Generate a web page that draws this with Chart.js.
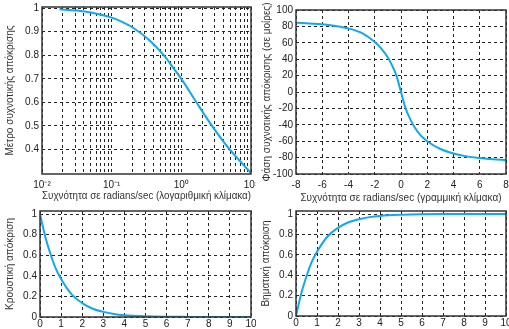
<!DOCTYPE html>
<html lang="el">
<head>
  <meta charset="UTF-8" />
  <title>Απόκριση συστήματος</title>
  <script src="https://cdn.jsdelivr.net/npm/chart.js"></script>
  <style>
    body { margin: 0; background: #fff; }
    #wrap { position: relative; width: 509px; height: 329px; overflow: hidden; }
    canvas { position: absolute; }
  </style>
</head>
<body>
  <div id="wrap">
    <canvas id="magChart" width="256" height="205" style="left:0;top:0"></canvas>
    <canvas id="phaseChart" width="255" height="205" style="left:254px;top:0"></canvas>
    <canvas id="impChart" width="256" height="124" style="left:0;top:205px"></canvas>
    <canvas id="stepChart" width="255" height="124" style="left:254px;top:205px"></canvas>
  </div>

  <script>
    // magnitude (log frequency axis)
    const magW = [0.0178, 0.0316, 0.0501, 0.1, 0.141, 0.2, 0.355, 0.582, 0.759, 1.0, 1.585, 2.818, 5.01, 10.0];
    const magY = [0.995, 0.99, 0.982, 0.96, 0.942, 0.918, 0.862, 0.794, 0.748, 0.7, 0.608, 0.496, 0.398, 0.3];
    const logTicks = [0.01,0.02,0.03,0.04,0.05,0.06,0.07,0.08,0.09,
                      0.1,0.2,0.3,0.4,0.5,0.6,0.7,0.8,0.9,
                      1,2,3,4,5,6,7,8,9,10];
    const logTickLabels = ['10⁻²','','','','','','','','',
                           '10⁻¹','','','','','','','','',
                           '10⁰','','','','','','','','','10¹'];
    const magTicks = [0.4, 0.5, 0.6, 0.7, 0.8, 0.9, 1];

    // phase in degrees (linear frequency axis)
    const phW =   [-8, -7, -6, -5, -4, -3, -2, -1.5, -1, -0.7, -0.35, 0, 0.35, 0.7, 1, 1.5, 2, 3, 4, 5, 6, 7, 8];
    const phDeg = [84.5, 83.5, 82.5, 80.5, 77.5, 72, 61, 53, 42, 33, 20, 0, -20, -33, -42, -53, -60, -69.5, -75, -78.5, -80.5, -82, -83];
    const phXTicks = [-8, -6, -4, -2, 0, 2, 4, 6, 8];
    const phYTicks = [-100, -80, -60, -40, -20, 0, 20, 40, 60, 80, 100];

    // impulse and step responses
    const tVals = [0, 0.25, 0.5, 0.75, 1, 1.5, 2, 2.5, 3, 3.5, 4, 5, 6, 7, 8, 9, 10];
    const impY  = [1, 0.78, 0.61, 0.47, 0.37, 0.22, 0.135, 0.08, 0.05, 0.03, 0.018, 0.007, 0.0025, 0.001, 0, 0, 0];
    const stepY = [0, 0.22, 0.39, 0.53, 0.63, 0.78, 0.865, 0.92, 0.95, 0.97, 0.982, 0.993, 0.998, 1, 1, 1, 1];
    const tTicks = [0, 1, 2, 3, 4, 5, 6, 7, 8, 9, 10];
    const respTicks = [0, 0.2, 0.4, 0.6, 0.8, 1];

    const lineColor = '#12a8ea';
    const font = { family: 'Liberation Sans, Arial, sans-serif', size: 10 };

    // box round the plot area, like MATLAB axes
    const framePlugin = {
      id: 'frame',
      afterDraw(chart) {
        const { ctx, chartArea: a } = chart;
        ctx.save();
        ctx.strokeStyle = '#333';
        ctx.lineWidth = 1.5;
        ctx.strokeRect(a.left, a.top, a.right - a.left, a.bottom - a.top);
        ctx.restore();
      }
    };

    function pts(xs, ys) {
      return xs.map((x, i) => ({ x: x, y: ys[i] }));
    }

    function makeChart(id, cfg) {
      const ctx = document.getElementById(id).getContext('2d');
      const axisCommon = {
        grid: { color: '#222', lineWidth: 1, drawTicks: false },
        border: { display: false, dash: [3, 3] },
      };
      return new Chart(ctx, {
        type: 'line',
        data: {
          datasets: [{
            data: cfg.data,
            borderColor: lineColor,
            borderWidth: 2,
            pointRadius: 0,
            fill: false,
            cubicInterpolationMode: 'monotone'
          }]
        },
        options: {
          responsive: false,
          animation: false,
          events: [],
          layout: { padding: { top: cfg.top, right: cfg.right, bottom: cfg.bottom, left: 0 } },
          plugins: { legend: { display: false }, tooltip: { enabled: false } },
          scales: {
            x: Object.assign({}, axisCommon, {
              type: cfg.xType || 'linear',
              min: cfg.xMin, max: cfg.xMax,
              title: cfg.xTitle ? { display: true, text: cfg.xTitle, font: font, color: '#333', padding: { top: 0, bottom: 0 } } : { display: false },
              ticks: {
                font: font, color: '#222', padding: cfg.xTickPad, autoSkip: false, maxRotation: 0,
                callback: cfg.xLabels ? (v, i) => cfg.xLabels[i] : (v) => String(v)
              },
              afterBuildTicks: s => { s.ticks = cfg.xTicks.map(v => ({ value: v })); },
              afterFit: s => { s.height = cfg.xHeight; s.paddingLeft = 0; s.paddingRight = 0; }
            }),
            y: Object.assign({}, axisCommon, {
              min: cfg.yMin, max: cfg.yMax,
              title: { display: true, text: cfg.yTitle, font: font, color: '#333', padding: { top: cfg.yTitlePad, bottom: 0 } },
              ticks: { font: font, color: '#222', padding: 3, callback: v => String(v) },
              afterBuildTicks: s => { s.ticks = cfg.yTicks.map(v => ({ value: v })); },
              afterFit: s => { s.width = cfg.yWidth; s.paddingTop = 0; s.paddingBottom = 0; }
            })
          }
        },
        plugins: [framePlugin]
      });
    }

    makeChart('magChart', {
      data: pts(magW, magY),
      xType: 'logarithmic', xMin: 0.01, xMax: 10, xTicks: logTicks, xLabels: logTickLabels,
      yMin: 0.296, yMax: 1.005, yTicks: magTicks,
      xTitle: 'Συχνότητα σε radians/sec (λογαριθμική κλίμακα)',
      yTitle: 'Μέτρο συχνοτικής απόκρισης',
      top: 7, right: 5, bottom: 3, yWidth: 42, xHeight: 28, xTickPad: 5, yTitlePad: 4
    });

    makeChart('phaseChart', {
      data: pts(phW, phDeg),
      xMin: -8, xMax: 8, xTicks: phXTicks,
      yMin: -100, yMax: 100, yTicks: phYTicks,
      xTitle: 'Συχνότητα σε radians/sec (γραμμική κλίμακα)',
      yTitle: 'Φάση συχνοτικής απόκρισης (σε μοίρες)',
      top: 10, right: 3, bottom: 1, yWidth: 42, xHeight: 30, xTickPad: 5, yTitlePad: 7
    });

    makeChart('impChart', {
      data: pts(tVals, impY),
      xMin: 0, xMax: 10, xTicks: tTicks,
      yMin: 0, yMax: 1.03, yTicks: respTicks,
      yTitle: 'Κρουστική απόκριση',
      top: 6, right: 5, bottom: 0, yWidth: 40, xHeight: 12, xTickPad: 1, yTitlePad: 4
    });

    makeChart('stepChart', {
      data: pts(tVals, stepY),
      xMin: 0, xMax: 10, xTicks: tTicks,
      yMin: 0, yMax: 1.03, yTicks: respTicks,
      yTitle: 'Βηματική απόκριση',
      top: 6, right: 3, bottom: 0, yWidth: 42, xHeight: 13, xTickPad: 1, yTitlePad: 6
    });
  </script>
</body>
</html>
